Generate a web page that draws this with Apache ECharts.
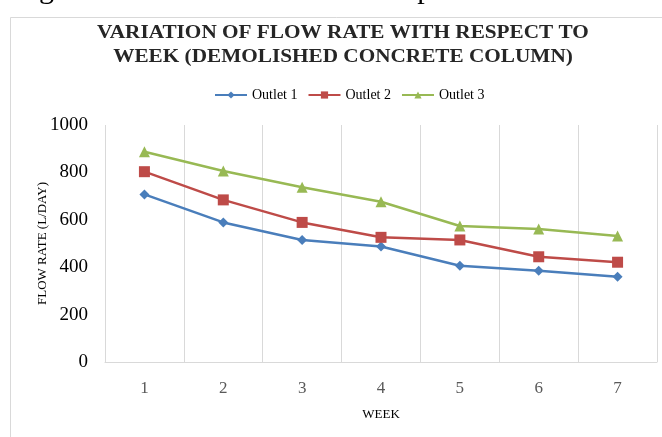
<!DOCTYPE html>
<html>
<head>
<meta charset="utf-8">
<script src="https://cdn.jsdelivr.net/npm/echarts@6/dist/echarts.min.js"></script>
<style>
    html, body { margin: 0; padding: 0; background: #fff; }
    #chart { width: 662px; height: 437px; }
</style>
</head>
<body>
<div id="chart"></div>
<script>
    // data
    var weeks = ['1', '2', '3', '4', '5', '6', '7'];
    var outlet1 = [707, 589, 515, 487, 406, 385, 360];
    var outlet2 = [803, 684, 589, 526, 515, 444, 421];
    var outlet3 = [887, 806, 737, 676, 574, 561, 532];
    var yTicks = [0, 200, 400, 600, 800, 1000];
    var titleLines = ['VARIATION OF FLOW RATE WITH RESPECT TO', 'WEEK (DEMOLISHED CONCRETE COLUMN)'];

    var serif = 'Liberation Serif';
    var myChart = echarts.init(document.getElementById('chart'));

    // title lines are stretched a bit to get the wide tracking of the original
    function titleLine(text, y) {
        return {
            type: 'text',
            x: 343,
            y: y,
            scaleX: 1.18,
            style: {
                text: text,
                font: 'bold 18px "Liberation Serif"',
                fill: '#262626',
                align: 'center',
                verticalAlign: 'middle'
            }
        };
    }

    var options = {
        backgroundColor: '#fff',
        color: ['#4a7ebb', '#be4b48', '#98b954'],
        legend: {
            data: ['Outlet 1', 'Outlet 2', 'Outlet 3'],
            top: 83,
            left: 209,
            itemWidth: 32,
            itemHeight: 9,
            itemGap: 10,
            textStyle: { fontFamily: serif, fontSize: 14, color: '#000' }
        },
        grid: {
            left: 105,
            right: 5,
            top: 125,
            bottom: 75
        },
        xAxis: {
            type: 'category',
            data: weeks,
            boundaryGap: true,
            name: 'WEEK',
            nameLocation: 'middle',
            nameGap: 46,
            nameMoveOverlap: false,
            nameTextStyle: { fontFamily: serif, fontSize: 13, color: '#000' },
            axisLine: { lineStyle: { color: '#d9d9d9', width: 1 } },
            axisTick: { show: false },
            axisLabel: { fontFamily: serif, fontSize: 17, color: '#595959', margin: 18 },
            splitLine: { show: true, lineStyle: { color: '#d9d9d9', width: 1 } }
        },
        yAxis: {
            type: 'value',
            min: yTicks[0],
            max: yTicks[yTicks.length - 1],
            interval: 200,
            name: 'FLOW RATE (L/DAY)',
            nameLocation: 'middle',
            nameGap: 56,
            nameMoveOverlap: false,
            nameTextStyle: { fontFamily: serif, fontSize: 13, color: '#000' },
            axisLine: { show: false },
            axisTick: { show: false },
            axisLabel: {
                fontFamily: serif, fontSize: 19, color: '#000', margin: 17,
                formatter: function (v) { return String(v); }
            },
            splitLine: { show: false }
        },
        graphic: [
            {
                type: 'rect',
                shape: { x: 10.5, y: 17.5, width: 700, height: 500 },
                style: { fill: 'none', stroke: '#d9d9d9', lineWidth: 1 },
                z: -1
            },
            {
                type: 'text',
                x: 14,
                y: -25,
                style: {
                    text: 'Figure 14: Flow rate of Brick Chips Column vs Weeks',
                    font: '30px "Liberation Serif"',
                    fill: '#000'
                }
            },
            titleLine(titleLines[0], 33),
            titleLine(titleLines[1], 57)
        ],
        series: [
            {
                name: 'Outlet 1',
                type: 'line',
                data: outlet1,
                symbol: 'diamond',
                symbolSize: 10,
                lineStyle: { width: 2.5 }
            },
            {
                name: 'Outlet 2',
                type: 'line',
                data: outlet2,
                symbol: 'rect',
                symbolSize: 11,
                lineStyle: { width: 2.5 }
            },
            {
                name: 'Outlet 3',
                type: 'line',
                data: outlet3,
                symbol: 'triangle',
                symbolSize: 11,
                lineStyle: { width: 2.5 }
            }
        ]
    };

    myChart.setOption(options);
    window.addEventListener('resize', myChart.resize);
</script>
</body>
</html>
